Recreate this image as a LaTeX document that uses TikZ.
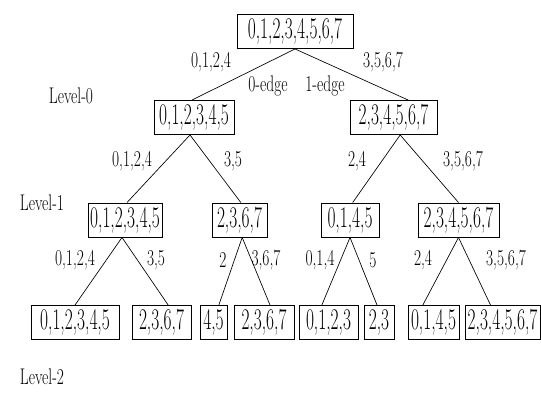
\documentclass[tikz,border=0pt]{standalone}
\usepackage{graphicx}
% condensed text for the set boxes and for the edge / level labels
\newcommand\settxt[1]{\scalebox{0.58}[1]{\fontsize{22.5}{26}\selectfont #1}}
\newcommand\lbltxt[1]{\scalebox{0.68}[1]{\fontsize{17}{20}\selectfont #1}}
\tikzset{
  setbox/.style={draw, line width=0.7pt, inner sep=0pt, minimum height=25.5pt},
  branch/.style={line width=0.5pt},
  lbl/.style={inner sep=0pt}
}
\begin{document}
\begin{tikzpicture}[x=0.75pt, y=-0.75pt]
\useasboundingbox (0,0) rectangle (541,392);

% root
\node[setbox, minimum width=87pt] (root) at (295,31.5) {\settxt{0,1,2,3,4,5,6,7}};

% level 0
\node[setbox, minimum width=60pt] (l0a) at (194,117.5) {\settxt{0,1,2,3,4,5}};
\node[setbox, minimum width=65.25pt] (l0b) at (393.5,117.5) {\settxt{2,3,4,5,6,7}};

% level 1
\node[setbox, minimum width=55.5pt] (l1a) at (125,220) {\settxt{0,1,2,3,4,5}};
\node[setbox, minimum width=41.25pt] (l1b) at (239.5,220) {\settxt{2,3,6,7}};
\node[setbox, minimum width=43.5pt] (l1c) at (350,220) {\settxt{0,1,4,5}};
\node[setbox, minimum width=60.75pt] (l1d) at (458.5,220) {\settxt{2,3,4,5,6,7}};

% level 2
\node[setbox, minimum width=66pt] (l2a) at (75,322.5) {\settxt{0,1,2,3,4,5}};
\node[setbox, minimum width=44.25pt] (l2b) at (161.5,322.5) {\settxt{2,3,6,7}};
\node[setbox, minimum width=20.25pt] (l2c) at (213.5,322.5) {\settxt{4,5}};
\node[setbox, minimum width=45pt] (l2d) at (264,322.5) {\settxt{2,3,6,7}};
\node[setbox, minimum width=44.25pt] (l2e) at (328.5,322.5) {\settxt{0,1,2,3}};
\node[setbox, minimum width=22.5pt] (l2f) at (379,322.5) {\settxt{2,3}};
\node[setbox, minimum width=38.25pt] (l2g) at (433.5,322.5) {\settxt{0,1,4,5}};
\node[setbox, minimum width=56.25pt] (l2h) at (502.5,322.5) {\settxt{2,3,4,5,6,7}};

% branches
\draw[branch] (root.south) -- ([xshift=-1.5pt]l0a.north);
\draw[branch] (root.south) -- ([xshift=11pt]l0b.north);

\draw[branch] ([xshift=-3pt]l0a.south) -- ([xshift=1.5pt]l1a.north);
\draw[branch] ([xshift=-3pt]l0a.south) -- ([xshift=1pt]l1b.north);
\draw[branch] ([xshift=5pt]l0b.south) -- ([xshift=2pt]l1c.north);
\draw[branch] ([xshift=5pt]l0b.south) -- (l1d.north);

\draw[branch] ([xshift=-2.25pt]l1a.south) -- (l2a.north);
\draw[branch] ([xshift=-2.25pt]l1a.south) -- ([xshift=5pt]l2b.north);
\draw[branch] ([xshift=2pt]l1b.south) -- ([xshift=4pt]l2c.north);
\draw[branch] ([xshift=2pt]l1b.south) -- ([xshift=4.5pt]l2d.north);
\draw[branch] (l1c.south) -- ([xshift=-5pt]l2e.north);
\draw[branch] (l1c.south) -- ([xshift=-1.5pt]l2f.north);
\draw[branch] (l1d.south) -- ([xshift=-8pt]l2g.north);
\draw[branch] (l1d.south) -- ([xshift=-9pt]l2h.north);

% edge labels
\node[lbl] (e0) at (211,62) {\lbltxt{0,1,2,4}};
\node[lbl] (e1) at (383,62) {\lbltxt{3,5,6,7}};
\node[lbl] (zeroedge) at (268,86) {\lbltxt{0-edge}};
\node[lbl] (oneedge) at (325,86) {\lbltxt{1-edge}};

\node[lbl] (e00) at (132,161) {\lbltxt{0,1,2,4}};
\node[lbl] (e01) at (233,161) {\lbltxt{3,5}};
\node[lbl] (e10) at (357,161) {\lbltxt{2,4}};
\node[lbl] (e11) at (463,161) {\lbltxt{3,5,6,7}};

\node[lbl] (e000) at (75,260) {\lbltxt{0,1,2,4}};
\node[lbl] (e001) at (156,260) {\lbltxt{3,5}};
\node[lbl] (e010) at (223,260) {\lbltxt{2}};
\node[lbl] (e011) at (266,260) {\lbltxt{3,6,7}};
\node[lbl] (e100) at (320,260) {\lbltxt{0,1,4}};
\node[lbl] (e101) at (373,260) {\lbltxt{5}};
\node[lbl] (e110) at (423,260) {\lbltxt{2,4}};
\node[lbl] (e111) at (506,260) {\lbltxt{3,5,6,7}};

% level captions
\node[lbl] (lev0) at (71,96) {\lbltxt{Level-0}};
\node[lbl] (lev1) at (42,203) {\lbltxt{Level-1}};
\node[lbl] (lev2) at (42,377) {\lbltxt{Level-2}};
\end{tikzpicture}
\end{document}
